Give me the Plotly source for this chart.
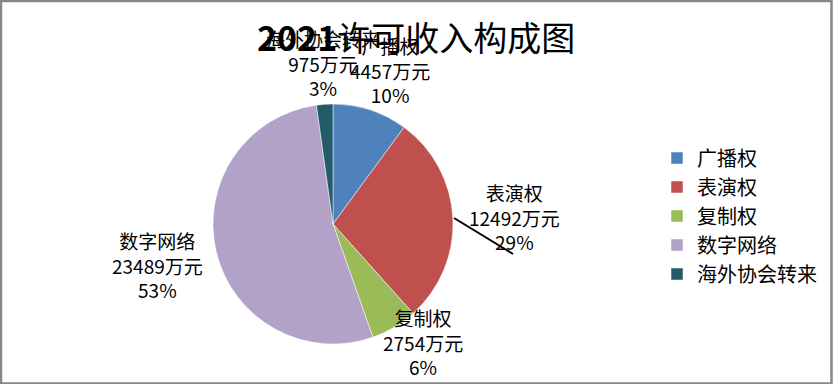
import plotly.graph_objects as go

# ---- data ----
categories = ["广播权", "表演权", "复制权", "数字网络", "海外协会转来"]
values = [4457, 12492, 2754, 23489, 975]
pct_labels = ["10%", "29%", "6%", "53%", "3%"]
colors = ["#4F81BD", "#C0504D", "#9BBB59", "#B3A2C7", "#235B69"]
title_text = "<b>2021</b>许可收入构成图"

W, H = 833, 384
FONT = "Noto Sans CJK SC"

# label anchor positions in pixels (x, y of middle line)
label_pos = {
    "广播权": (390, 70),
    "表演权": (514, 217),
    "复制权": (423, 342),
    "数字网络": (157, 265),
    "海外协会转来": (323, 63),
}

fig = go.Figure()
fig.add_trace(go.Pie(
    labels=categories,
    values=values,
    sort=False,
    direction="clockwise",
    rotation=0,
    marker=dict(colors=colors, line=dict(color="white", width=0.5)),
    textinfo="none",
    hoverinfo="label+value+percent",
    domain=dict(x=[(333 - 120) / W, (333 + 120) / W],
                y=[(H - 224 - 120) / H, (H - 224 + 120) / H]),
))

annotations = []
for name, val, pct in zip(categories, values, pct_labels):
    px, py = label_pos[name]
    annotations.append(dict(
        x=px / W, y=1 - py / H, xref="paper", yref="paper",
        text=f"{name}<br>{val}万元<br>{pct}",
        showarrow=False, xanchor="center", yanchor="middle",
        font=dict(family=FONT, size=19, color="black"),
    ))
# title drawn last so it sits on top of the crowded labels
annotations.append(dict(
    x=416 / W, y=1 - 37 / H, xref="paper", yref="paper",
    text=title_text, showarrow=False, xanchor="center", yanchor="middle",
    font=dict(family=FONT, size=34, color="black"),
))

shapes = [
    # leader line for 表演权
    dict(type="line", xref="paper", yref="paper",
         x0=454 / W, y0=1 - 218 / H, x1=513 / W, y1=1 - 254 / H,
         line=dict(color="black", width=2)),
    # outer border
    dict(type="rect", xref="paper", yref="paper",
         x0=1 / W, y0=0.5 / H, x1=1 - 1.5 / W, y1=1 - 1 / H,
         line=dict(color="#878787", width=2.5)),
]

fig.update_layout(
    width=W, height=H,
    margin=dict(l=0, r=0, t=0, b=0),
    paper_bgcolor="white",
    plot_bgcolor="white",
    legend=dict(x=657 / W, y=1 - 216 / H, xanchor="left", yanchor="middle",
                font=dict(family=FONT, size=20, color="black"),
                bgcolor="rgba(0,0,0,0)"),
    annotations=annotations,
    shapes=shapes,
    showlegend=True,
)

fig.write_html("out.html", config={"displayModeBar": False},
               post_script="document.body.style.margin='0';")
